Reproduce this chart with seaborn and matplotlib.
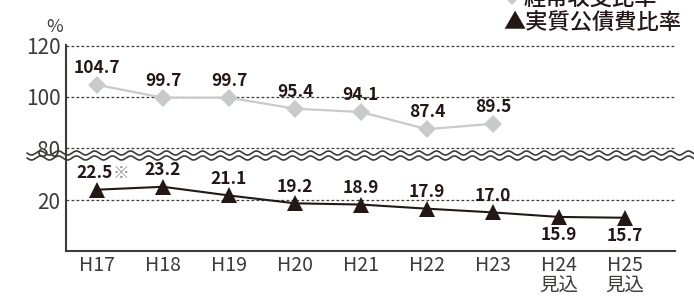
import numpy as np
import pandas as pd
import seaborn as sns
import matplotlib.pyplot as plt
from matplotlib.lines import Line2D

sns.set_theme(style="white")
plt.rcParams['font.family'] = ['Noto Sans CJK JP', 'DejaVu Sans']
plt.rcParams['lines.scale_dashes'] = False

# data
years = ['H17', 'H18', 'H19', 'H20', 'H21', 'H22', 'H23', 'H24', 'H25']
tick_labels = ['H17', 'H18', 'H19', 'H20', 'H21', 'H22', 'H23', 'H24\n見込', 'H25\n見込']
keijo = [104.7, 99.7, 99.7, 95.4, 94.1, 87.4, 89.5]          # 経常収支比率 H17-H23
kosai = [22.5, 23.2, 21.1, 19.2, 18.9, 17.9, 17.0, 15.9, 15.7]  # 実質公債費比率

INK = '#231815'
AXC = '#3e3a39'
GRAY = '#c9caca'

W, H = 694, 297
fig = plt.figure(figsize=(W / 100, H / 100), dpi=100)


def px_axes(x0, y0, x1, y1):
    return fig.add_axes([x0 / W, 1 - y1 / H, (x1 - x0) / W, (y1 - y0) / H])


ax_top = px_axes(66, 45, 675, 155)
ax_bot = px_axes(66, 155, 675, 251)

df_top = pd.DataFrame({'year': years[:len(keijo)], 'value': keijo})
df_bot = pd.DataFrame({'year': years, 'value': kosai})

sns.lineplot(data=df_top, x='year', y='value', ax=ax_top, sort=False, color=GRAY,
             lw=1.6, marker='D', markersize=9.5, markeredgewidth=0, zorder=3)
sns.lineplot(data=df_bot, x='year', y='value', ax=ax_bot, sort=False, color=INK,
             lw=1.5, marker='^', markersize=11.5, markeredgewidth=0, zorder=3)

xlim = (-0.47, 8.76)
for ax in (ax_top, ax_bot):
    ax.set_xlim(*xlim)
    ax.set_xlabel('')
    ax.set_ylabel('')
    ax.set_facecolor('none')
    ax.yaxis.grid(True, color=AXC, lw=0.9, linestyle=(0, (2, 1.6)))
    ax.xaxis.grid(False)
    ax.set_axisbelow(True)
    for s in ('top', 'right', 'bottom'):
        ax.spines[s].set_visible(False)
    ax.spines['left'].set_color(AXC)
    ax.spines['left'].set_linewidth(1.5)
    ax.tick_params(axis='y', length=0, pad=4, labelsize=15, labelcolor=AXC)

ax_top.set_ylim(77.3, 120.3)
ax_top.set_yticks([80, 100, 120])
ax_top.set_xticks([])

ax_bot.set_ylim(7.65, 30.9)
ax_bot.set_yticks([20])
ax_bot.spines['bottom'].set_visible(True)
ax_bot.spines['bottom'].set_color(AXC)
ax_bot.spines['bottom'].set_linewidth(1.5)
ax_bot.set_xticks(range(len(years)))
ax_bot.set_xticklabels(tick_labels, linespacing=0.95)
ax_bot.tick_params(axis='x', length=0, pad=3, labelsize=14, labelcolor=AXC)
ax_bot.set_xticks(np.linspace(xlim[0], xlim[1], 9)[1:-1], minor=True)
ax_bot.tick_params(axis='x', which='minor', direction='in', length=3, width=0.8, color='#b5b5b6')

# value labels
for i, v in enumerate(keijo):
    ax_top.annotate(f'{v:.1f}', (i, v), xytext=(0, 12), textcoords='offset points',
                    ha='center', va='center', fontsize=12.5, fontweight='bold', color=INK,
                    annotation_clip=False)
for i, v in enumerate(kosai):
    dy = -13 if i >= 7 else 12
    dx = -2 if i == 0 else 0
    ax_bot.annotate(f'{v:.1f}', (i, v), xytext=(dx, dy), textcoords='offset points',
                    ha='center', va='center', fontsize=12.5, fontweight='bold', color=INK,
                    annotation_clip=False)
ax_bot.annotate('※', (0, kosai[0]), xytext=(11.5, 12), textcoords='offset points',
                ha='left', va='center', fontsize=12, color='#898989', annotation_clip=False)

# unit
fig.text(55 / W, 1 - 27 / H, '%', ha='center', va='center', fontsize=13, color=AXC)

# axis break (double wavy line)
wx = np.linspace(27, W, 600)
for yc in (153.0, 158.0):
    wy = yc + 2.0 * np.sin(2 * np.pi * (wx - 27) / 18.0)
    fig.add_artist(Line2D(wx / W, 1 - wy / H, color=AXC, lw=1.2, transform=fig.transFigure))

# legend
fig.text(503 / W, 1 - (-2) / H, '◆', ha='left', va='center', fontsize=13, color=GRAY)
fig.text(524 / W, 1 - (-2) / H, '経常収支比率', ha='left', va='center', fontsize=16,
         fontweight='medium', color=INK)
fig.text(503 / W, 1 - 23 / H, '▲実質公債費比率', ha='left', va='center', fontsize=16,
         fontweight='medium', color=INK)

fig.savefig('out.png', dpi=100)
